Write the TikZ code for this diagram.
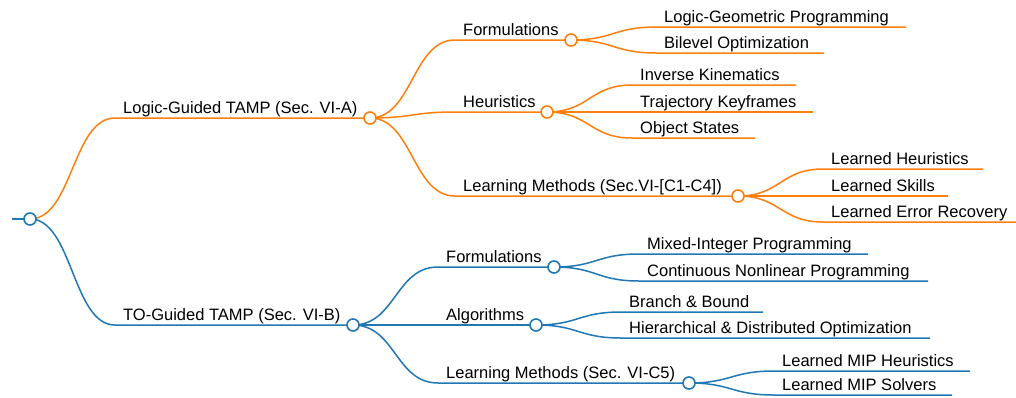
\documentclass[tikz,border=0pt]{standalone}
\usepackage{fontspec}
\setmainfont{Liberation Sans}
\definecolor{mmorange}{HTML}{FF7F0E}
\definecolor{mmblue}{HTML}{1F77B4}
\tikzset{
  branch/.style={line width=1.5pt},
  knot/.style={circle, draw=#1, fill=white, line width=1.6pt, minimum size=12pt, inner sep=0pt},
  lbl/.style={anchor=base west, inner sep=0pt, text=black, font=\fontsize{16.5}{18}\selectfont},
}
\begin{document}
\begin{tikzpicture}[x=1pt, y=-1pt]
    \useasboundingbox (0,0) rectangle (1016,397);
    % half of the gap between two levels
    \def\bend{42.5}

    % Root
    \coordinate (rootS) at (12,219);
    \coordinate (root) at (30,219);
    \draw[branch, mmblue, line width=2pt] (rootS) -- (root);

    % Logic-guided branch (orange)
    \coordinate (lgS) at (115,118);
    \coordinate (lg) at (370,118);
    \draw[branch, mmorange] (root) .. controls +(\bend,0) and +(-\bend,0) .. (lgS) -- (lg);
    \node[lbl] (lgT) at (123,113) {Logic-Guided TAMP (Sec. VI-A)};

    \coordinate (oFS) at (455,40);
    \coordinate (oF) at (571,40);
    \draw[branch, mmorange] (lg) .. controls +(\bend,0) and +(-\bend,0) .. (oFS) -- (oF);
    \node[lbl] (oFT) at (463,35) {Formulations};

    \coordinate (oHS) at (455,112);
    \coordinate (oH) at (547,112);
    \draw[branch, mmorange] (lg) .. controls +(\bend,0) and +(-\bend,0) .. (oHS) -- (oH);
    \node[lbl] (oHT) at (463,107) {Heuristics};

    \coordinate (oLS) at (455,196);
    \coordinate (oL) at (738,196);
    \draw[branch, mmorange] (lg) .. controls +(\bend,0) and +(-\bend,0) .. (oLS) -- (oL);
    \node[lbl] (oLT) at (463,191) {Learning Methods (Sec.VI-[C1-C4])};

    % orange leaves
    \coordinate (lgpS) at (656,27);
    \coordinate (lgpE) at (906,27);
    \draw[branch, mmorange] (oF) .. controls +(\bend,0) and +(-\bend,0) .. (lgpS) -- (lgpE);
    \node[lbl] (lgpT) at (664,22) {Logic-Geometric Programming};

    \coordinate (boS) at (656,53);
    \coordinate (boE) at (824,53);
    \draw[branch, mmorange] (oF) .. controls +(\bend,0) and +(-\bend,0) .. (boS) -- (boE);
    \node[lbl] (boT) at (664,48) {Bilevel Optimization};

    \coordinate (ikS) at (632,85);
    \coordinate (ikE) at (796,85);
    \draw[branch, mmorange] (oH) .. controls +(\bend,0) and +(-\bend,0) .. (ikS) -- (ikE);
    \node[lbl] (ikT) at (640,80) {Inverse Kinematics};

    \coordinate (tkS) at (632,112);
    \coordinate (tkE) at (813,112);
    \draw[branch, mmorange] (oH) .. controls +(\bend,0) and +(-\bend,0) .. (tkS) -- (tkE);
    \node[lbl] (tkT) at (640,107) {Trajectory Keyframes};

    \coordinate (osS) at (632,138);
    \coordinate (osE) at (755,138);
    \draw[branch, mmorange] (oH) .. controls +(\bend,0) and +(-\bend,0) .. (osS) -- (osE);
    \node[lbl] (osT) at (640,133) {Object States};

    \coordinate (lhS) at (823,169);
    \coordinate (lhE) at (983,169);
    \draw[branch, mmorange] (oL) .. controls +(\bend,0) and +(-\bend,0) .. (lhS) -- (lhE);
    \node[lbl] (lhT) at (831,164) {Learned Heuristics};

    \coordinate (lsS) at (823,196);
    \coordinate (lsE) at (948,196);
    \draw[branch, mmorange] (oL) .. controls +(\bend,0) and +(-\bend,0) .. (lsS) -- (lsE);
    \node[lbl] (lsT) at (831,191) {Learned Skills};

    \coordinate (lerS) at (823,222);
    \coordinate (lerE) at (1016,222);
    \draw[branch, mmorange] (oL) .. controls +(\bend,0) and +(-\bend,0) .. (lerS) -- (lerE);
    \node[lbl] (lerT) at (831,217) {Learned Error Recovery};

    % TO-guided branch (blue)
    \coordinate (toS) at (115,325);
    \coordinate (to) at (353,325);
    \draw[branch, mmblue] (root) .. controls +(\bend,0) and +(-\bend,0) .. (toS) -- (to);
    \node[lbl] (toT) at (123,320) {TO-Guided TAMP (Sec. VI-B)};

    \coordinate (bFS) at (438,267);
    \coordinate (bF) at (554,267);
    \draw[branch, mmblue] (to) .. controls +(\bend,0) and +(-\bend,0) .. (bFS) -- (bF);
    \node[lbl] (bFT) at (446,262) {Formulations};

    \coordinate (bAS) at (438,325);
    \coordinate (bA) at (536,325);
    \draw[branch, mmblue] (to) -- (bAS) -- (bA);
    \node[lbl] (bAT) at (446,320) {Algorithms};

    \coordinate (bLS) at (438,383);
    \coordinate (bL) at (689,383);
    \draw[branch, mmblue] (to) .. controls +(\bend,0) and +(-\bend,0) .. (bLS) -- (bL);
    \node[lbl] (bLT) at (446,378) {Learning Methods (Sec. VI-C5)};

    % blue leaves
    \coordinate (mipS) at (639,254);
    \coordinate (mipE) at (868,254);
    \draw[branch, mmblue] (bF) .. controls +(\bend,0) and +(-\bend,0) .. (mipS) -- (mipE);
    \node[lbl] (mipT) at (647,249) {Mixed-Integer Programming};

    \coordinate (cnpS) at (639,281);
    \coordinate (cnpE) at (928,281);
    \draw[branch, mmblue] (bF) .. controls +(\bend,0) and +(-\bend,0) .. (cnpS) -- (cnpE);
    \node[lbl] (cnpT) at (647,276) {Continuous Nonlinear Programming};

    \coordinate (bbS) at (621,312);
    \coordinate (bbE) at (763,312);
    \draw[branch, mmblue] (bA) .. controls +(\bend,0) and +(-\bend,0) .. (bbS) -- (bbE);
    \node[lbl] (bbT) at (629,307) {Branch \& Bound};

    \coordinate (hdoS) at (621,338);
    \coordinate (hdoE) at (930,338);
    \draw[branch, mmblue] (bA) .. controls +(\bend,0) and +(-\bend,0) .. (hdoS) -- (hdoE);
    \node[lbl] (hdoT) at (629,333) {Hierarchical \& Distributed Optimization};

    \coordinate (lmhS) at (774,371);
    \coordinate (lmhE) at (970,371);
    \draw[branch, mmblue] (bL) .. controls +(\bend,0) and +(-\bend,0) .. (lmhS) -- (lmhE);
    \node[lbl] (lmhT) at (782,366) {Learned MIP Heuristics};

    \coordinate (lmsS) at (774,395);
    \coordinate (lmsE) at (952,395);
    \draw[branch, mmblue] (bL) .. controls +(\bend,0) and +(-\bend,0) .. (lmsS) -- (lmsE);
    \node[lbl] (lmsT) at (782,390) {Learned MIP Solvers};

    % Circles on top of the links
    \node[knot=mmblue] (rootK) at (root) {};
    \node[knot=mmorange] (lgK) at (lg) {};
    \node[knot=mmorange] (oFK) at (oF) {};
    \node[knot=mmorange] (oHK) at (oH) {};
    \node[knot=mmorange] (oLK) at (oL) {};
    \node[knot=mmblue] (toK) at (to) {};
    \node[knot=mmblue] (bFK) at (bF) {};
    \node[knot=mmblue] (bAK) at (bA) {};
    \node[knot=mmblue] (bLK) at (bL) {};
\end{tikzpicture}
\end{document}
